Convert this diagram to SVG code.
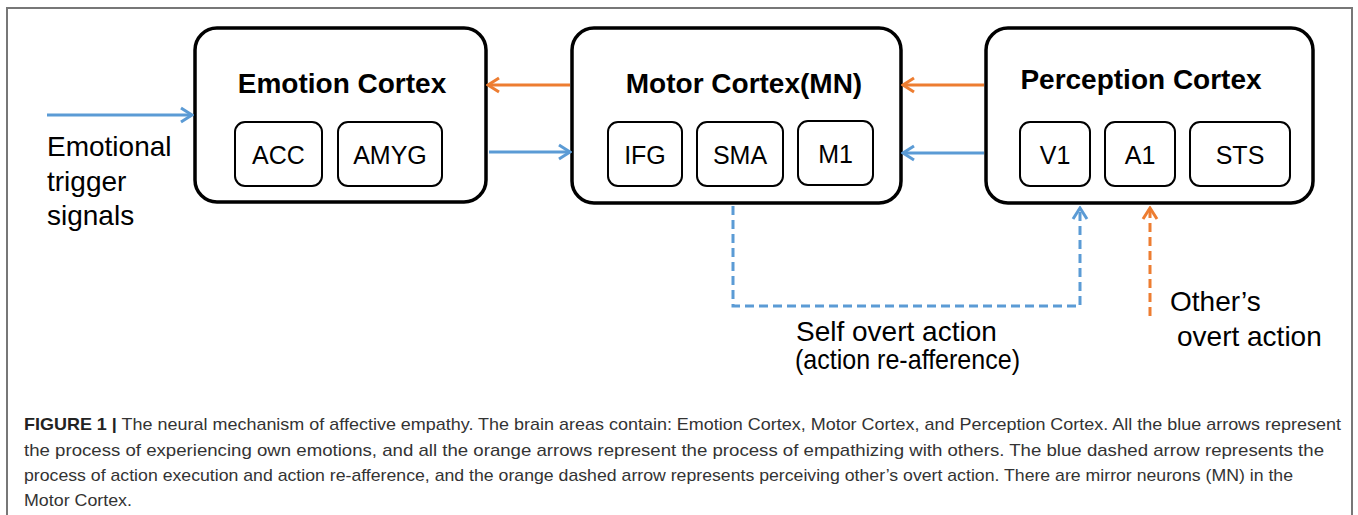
<svg xmlns="http://www.w3.org/2000/svg" width="1358" height="515" viewBox="0 0 1358 515">
<style>
.box{fill:#fff;stroke:#000;stroke-width:3.5}
.sub{fill:#fff;stroke:#000;stroke-width:2}
.title{font-family:"Liberation Sans",Arial,sans-serif;font-weight:bold;font-size:28px;fill:#000;text-anchor:middle}
.lab{font-family:"Liberation Sans",Arial,sans-serif;font-size:25px;fill:#000;text-anchor:middle}
.txt{font-family:"Liberation Sans",Arial,sans-serif;font-size:28px;fill:#000}
.cap{font-family:"Liberation Sans",Arial,sans-serif;font-size:17px;fill:#333}
.blue{fill:none;stroke:#5b9bd5;stroke-width:3}
.orange{fill:none;stroke:#ed7d31;stroke-width:3}
.dash{stroke-dasharray:9,5}
</style>
<defs>
<marker id="hb" viewBox="0 0 16 18" refX="14" refY="9" markerWidth="16" markerHeight="18" markerUnits="userSpaceOnUse" orient="auto">
<path d="M3,2 L14,9 L3,16" fill="none" stroke="#5b9bd5" stroke-width="3"/>
</marker>
<marker id="ho" viewBox="0 0 16 18" refX="14" refY="9" markerWidth="16" markerHeight="18" markerUnits="userSpaceOnUse" orient="auto">
<path d="M3,2 L14,9 L3,16" fill="none" stroke="#ed7d31" stroke-width="3"/>
</marker>
</defs>
<rect x="0" y="0" width="1358" height="515" fill="#fff"/>
<path d="M7,520 L7,8 L1352,8 L1352,520" fill="none" stroke="#777" stroke-width="2"/>
<g id="emotion">
<rect class="box" x="195" y="28" width="291" height="174" rx="22"/>
<text class="title" x="342" y="93">Emotion Cortex</text>
<rect class="sub" x="235" y="122" width="87" height="64" rx="10"/>
<text class="lab" x="278.5" y="164">ACC</text>
<rect class="sub" x="338" y="122" width="104" height="64" rx="10"/>
<text class="lab" x="390" y="164">AMYG</text>
</g>
<g id="motor">
<rect class="box" x="572" y="28" width="329" height="175" rx="22"/>
<text class="title" x="744" y="93">Motor Cortex(MN)</text>
<rect class="sub" x="608" y="122" width="74" height="64" rx="10"/>
<text class="lab" x="645" y="164">IFG</text>
<rect class="sub" x="697" y="122" width="86" height="64" rx="10"/>
<text class="lab" x="740" y="164">SMA</text>
<rect class="sub" x="798" y="121" width="75" height="64" rx="10"/>
<text class="lab" x="835.5" y="163">M1</text>
</g>
<g id="perception">
<rect class="box" x="986" y="28" width="327" height="175" rx="22"/>
<text class="title" x="1141" y="89">Perception Cortex</text>
<rect class="sub" x="1020" y="122" width="70" height="64" rx="10"/>
<text class="lab" x="1055" y="164">V1</text>
<rect class="sub" x="1105" y="122" width="70" height="64" rx="10"/>
<text class="lab" x="1140" y="164">A1</text>
<rect class="sub" x="1190" y="122" width="100" height="64" rx="10"/>
<text class="lab" x="1240" y="164">STS</text>
</g>
<g id="connectors">
<line class="blue" x1="47" y1="115" x2="192" y2="115" marker-end="url(#hb)"/>
<line class="orange" x1="570" y1="85" x2="488" y2="85" marker-end="url(#ho)"/>
<line class="blue" x1="489" y1="152" x2="570" y2="152" marker-end="url(#hb)"/>
<line class="orange" x1="984" y1="85" x2="903" y2="85" marker-end="url(#ho)"/>
<line class="blue" x1="984" y1="153" x2="903" y2="153" marker-end="url(#hb)"/>
<polyline class="blue dash" points="733,206 733,306 1080,306 1080,208" marker-end="url(#hb)"/>
<line class="orange dash" x1="1150" y1="316" x2="1150" y2="208" marker-end="url(#ho)"/>
</g>
<g id="labels">
<text class="txt" x="47" y="156">Emotional</text>
<text class="txt" x="47" y="191">trigger</text>
<text class="txt" x="47" y="225">signals</text>
<text class="txt" x="796" y="341" font-size="27">Self overt action</text>
<text class="txt" x="795" y="369" font-size="22" textLength="225" lengthAdjust="spacingAndGlyphs">(action re-afference)</text>
<text class="txt" x="1170" y="311">Other’s</text>
<text class="txt" x="1177" y="346">overt action</text>
</g>
<g id="caption">
<text class="cap" x="24" y="430" textLength="1317" lengthAdjust="spacingAndGlyphs"><tspan font-weight="bold" fill="#222">FIGURE 1 |</tspan> The neural mechanism of affective empathy. The brain areas contain: Emotion Cortex, Motor Cortex, and Perception Cortex. All the blue arrows represent</text>
<text class="cap" x="24" y="456" textLength="1300" lengthAdjust="spacingAndGlyphs">the process of experiencing own emotions, and all the orange arrows represent the process of empathizing with others. The blue dashed arrow represents the</text>
<text class="cap" x="24" y="481" textLength="1269" lengthAdjust="spacingAndGlyphs">process of action execution and action re-afference, and the orange dashed arrow represents perceiving other’s overt action. There are mirror neurons (MN) in the</text>
<text class="cap" x="24" y="506" textLength="108" lengthAdjust="spacingAndGlyphs">Motor Cortex.</text>
</g>
</svg>
